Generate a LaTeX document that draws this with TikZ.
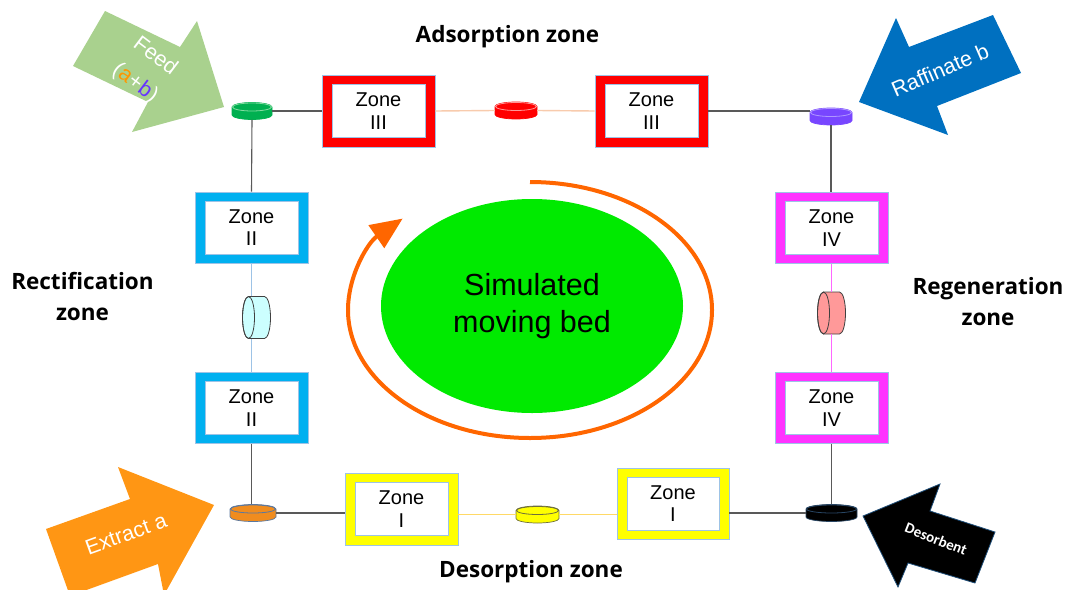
\documentclass[tikz,border=0pt]{standalone}
\usepackage{fontspec}
\setmainfont{Liberation Sans}
\newfontfamily\titlefont{Open Sans}
\newfontfamily\calfont{Carlito}
\usetikzlibrary{shapes.geometric,arrows.meta,calc}
\definecolor{feedgreen}{RGB}{169,209,142}
\definecolor{rafblue}{RGB}{0,112,192}
\definecolor{extorange}{RGB}{255,150,20}
\definecolor{arcorange}{RGB}{255,102,0}
\definecolor{zIII}{RGB}{255,0,0}
\definecolor{zII}{RGB}{0,176,240}
\definecolor{zIV}{RGB}{255,51,255}
\definecolor{zI}{RGB}{255,255,0}
\definecolor{zoneedge}{RGB}{157,195,230}
\definecolor{linkgray}{RGB}{89,89,89}
\definecolor{smbgreen}{RGB}{0,234,0}
\definecolor{cyanc}{RGB}{204,255,255}
\definecolor{pinkc}{RGB}{255,153,153}
\definecolor{cylout}{RGB}{64,64,64}
\definecolor{feedA}{RGB}{255,150,0}
\definecolor{feedB}{RGB}{102,51,255}
\definecolor{dgreen}{RGB}{0,176,80}
\definecolor{dgreenrim}{RGB}{130,220,160}
\definecolor{dred}{RGB}{255,0,0}
\definecolor{dredrim}{RGB}{255,150,150}
\definecolor{dpurple}{RGB}{120,70,255}
\definecolor{dpurplerim}{RGB}{175,150,255}
\definecolor{dorange}{RGB}{240,140,30}
\definecolor{dorangeout}{RGB}{90,120,160}
\definecolor{dyellow}{RGB}{255,255,0}
\definecolor{dyellowout}{RGB}{110,110,60}
\definecolor{dblackrim}{RGB}{40,70,100}
\definecolor{peachline}{RGB}{248,203,173}
\definecolor{blueline}{RGB}{157,195,230}
\definecolor{pinkline}{RGB}{255,102,255}
\definecolor{yellowline}{RGB}{255,217,102}
\definecolor{desedge}{RGB}{31,78,121}
% flat disk: name, position, fill, outline, top rim, half width
\newcommand\hdisk[6]{%
  \node[inner sep=0,minimum width=2*#6,minimum height=17] (#1) at (#2) {};
  \begin{scope}[shift={(#1.center)}]
    \filldraw[fill=#3,draw=#4,line width=0.7] (-#6,-4) -- (-#6,4)
      arc[start angle=180,end angle=0,x radius=#6,y radius=4.5] -- (#6,-4)
      arc[start angle=0,end angle=-180,x radius=#6,y radius=4.5] -- cycle;
    \draw[#5,line width=0.8] (0,-4) ellipse[x radius=#6-0.5,y radius=4];
  \end{scope}}
% cylinder on its side: name, position, fill
\newcommand\sdisk[3]{%
  \node[inner sep=0,minimum width=28,minimum height=42] (#1) at (#2) {};
  \begin{scope}[shift={(#1.center)}]
    \filldraw[fill=#3,draw=cylout,line width=0.8] (-8,-21) -- (8,-21)
      arc[start angle=-90,end angle=90,x radius=6,y radius=21] -- (-8,21)
      arc[start angle=90,end angle=270,x radius=6,y radius=21] -- cycle;
    \draw[cylout,line width=0.8] (-8,0) ellipse[x radius=6,y radius=21];
  \end{scope}}
\begin{document}
\begin{tikzpicture}[x=1pt,y=-1pt,
  zoneout/.style={draw=zoneedge,line width=0.8,minimum width=113,minimum height=71,inner sep=0},
  zonein/.style={fill=white,draw=zoneedge,line width=0.8,minimum width=93,minimum height=53,inner sep=0,align=center,font=\fontsize{20}{22.5}\selectfont},
  link/.style={draw=linkgray,line width=1.1},
  midlink/.style={line width=1.4},
  zonetitle/.style={font=\titlefont\bfseries\fontsize{22.5}{31}\selectfont,align=center},
  flowtext/.style={text=white,font=\fontsize{21.5}{24}\selectfont,inner sep=0}
]
\useasboundingbox (0,0) rectangle (1067,589);
\clip (0,0) rectangle (1067,589);

% corner flow arrows
\fill[feedgreen] (105,11) -- (180,47) -- (197,21) -- (224,107) -- (132,132) -- (148,102) -- (73,66) -- cycle;
\node[flowtext,rotate=-37,align=center,font=\fontsize{21.5}{33}\selectfont] (feedtxt) at (145,70) {Feed\\(\textcolor{feedA}{a}+\textcolor{feedB}{b})};
\fill[rafblue] (993,15) -- (1021,73) -- (937,106) -- (948,135) -- (859,102) -- (896,18) -- (909,47) -- cycle;
\node[flowtext,rotate=23.5] (raftxt) at (940,70) {Raffinate b};
\fill[extorange] (46,529) -- (130,499) -- (118,467) -- (214,505) -- (164,595) -- (158,564) -- (70,596) -- cycle;
\node[flowtext,rotate=20] (exttxt) at (126,534) {Extract a};
\filldraw[fill=black,draw=desedge,line width=0.8] (863,516) -- (940,484) -- (930,511) -- (995,532) -- (975,583) -- (908,563) -- (898,587) -- cycle;
\node[text=white,font=\calfont\bfseries\fontsize{15}{18}\selectfont,rotate=-21.5,inner sep=0] (destxt) at (936,539) {Desorbent};

% titles
\node[zonetitle] (adsorb) at (507.5,37) {Adsorption zone};
\node[zonetitle] (rectif) at (82.5,296) {Rectification\\zone};
\node[zonetitle] (regen) at (988,302) {Regeneration\\zone};
\node[zonetitle] (desorb) at (531,572) {Desorption zone};

% central ellipse and circulating arrow
\node[ellipse,fill=smbgreen,minimum width=302,minimum height=214,inner sep=0,align=center,
  font=\fontsize{30.5}{37}\selectfont] (smb) at (532,306) {Simulated\\moving bed};
\draw[arcorange,line width=4,-{Triangle[length=32,width=27]}] (530,310) ++(-90:182 and 128)
  arc[start angle=-90,end angle=225.6,x radius=182,y radius=128];

% zone boxes
\node[zoneout,fill=zIII,minimum height=72] (z3a) at (378.5,111) {};
\node[zonein] (z3at) at (z3a) {Zone\\III};
\node[zoneout,fill=zIII,minimum height=72] (z3b) at (651.5,111) {};
\node[zonein] (z3bt) at (z3b) {Zone\\III};
\node[zoneout,fill=zII] (z2a) at (251.5,227.5) {};
\node[zonein] (z2at) at (z2a) {Zone\\II};
\node[zoneout,fill=zII] (z2b) at (251.5,408) {};
\node[zonein] (z2bt) at (z2b) {Zone\\II};
\node[zoneout,fill=zIV] (z4a) at (831.5,228) {};
\node[zonein] (z4at) at (z4a) {Zone\\IV};
\node[zoneout,fill=zIV] (z4b) at (831.5,408) {};
\node[zonein] (z4bt) at (z4b) {Zone\\IV};
\node[zoneout,fill=zI,minimum height=72] (z1a) at (401.5,509) {};
\node[zonein] (z1at) at (z1a) {Zone\\I};
\node[zoneout,fill=zI,minimum width=112] (z1b) at (673,503.5) {};
\node[zonein,minimum width=92] (z1bt) at (z1b) {Zone\\I};

% columns (disks and cylinders)
\hdisk{gd}{252,111}{dgreen}{dgreen}{dgreenrim}{20}
\hdisk{rd}{516,110.5}{dred}{dred}{dredrim}{21}
\hdisk{pd}{831,116.5}{dpurple}{dpurple}{dpurplerim}{21}
\hdisk{od}{253,513}{dorange}{dorangeout}{dorangeout}{23}
\hdisk{yd}{537.5,514.5}{dyellow}{dyellowout}{dyellowout}{21.5}
\hdisk{bd}{831.5,513}{black}{dblackrim}{dblackrim}{25.5}
\sdisk{cc}{256.5,317.5}{cyanc}
\sdisk{pc}{831.5,313}{pinkc}

% connectors
\draw[link] (gd.east) -- (z3a.west);
\draw[link] (gd.south) -- (z2a.north);
\draw[midlink,peachline] (z3a.east) -- (rd.west);
\draw[midlink,peachline] (rd.east) -- (z3b.west);
\draw[link] (z3b.east) -- (z3b.east -| pd.west);
\draw[link] (pd.south) -- (pd.south |- z4a.north);
\draw[midlink,pinkline] (z4a.south) -- (z4a.south |- pc.north);
\draw[midlink,pinkline] (z4b.north |- pc.south) -- (z4b.north);
\draw[link] (z4b.south) -- (bd.north);
\draw[link] (z1b.east |- bd.west) -- (bd.west);
\draw[midlink,yellowline] (z1b.west |- yd.east) -- (yd.east);
\draw[midlink,yellowline] (yd.west) -- (z1a.east |- yd.west);
\draw[link] (z1a.west |- od.east) -- (od.east);
\draw[link] (z2b.south) -- (z2b.south |- od.north);
\draw[midlink,blueline] (z2b.north) -- (z2b.north |- cc.south);
\draw[midlink,blueline] (z2a.south |- cc.north) -- (z2a.south);
\end{tikzpicture}
\end{document}
